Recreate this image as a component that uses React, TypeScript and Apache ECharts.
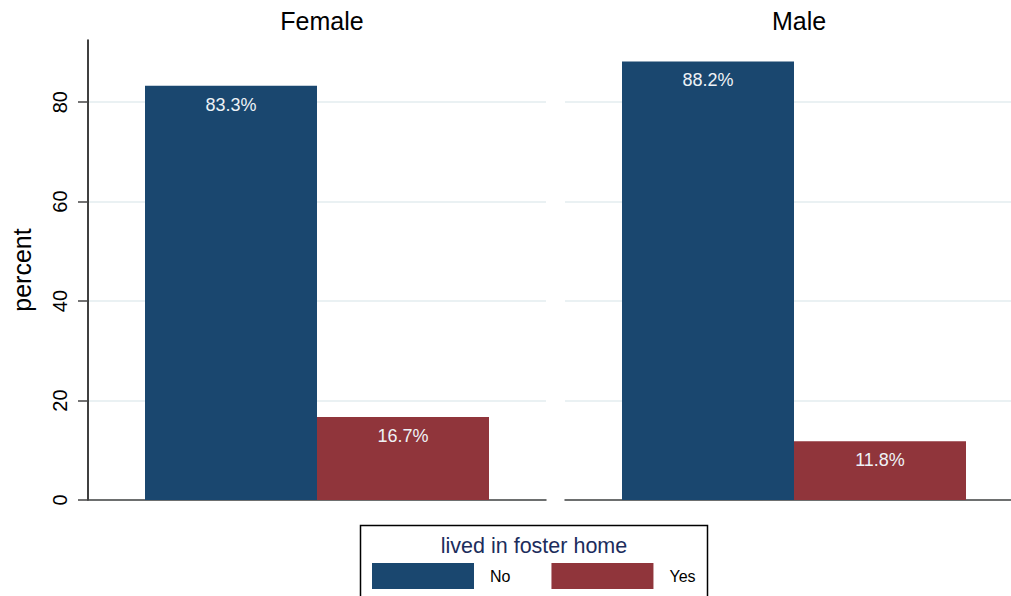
import React, { useEffect, useRef } from "react";
import * as echarts from "echarts";

const panels = ["Female", "Male"];
const groups = ["No", "Yes"];
const noValues = [83.3, 88.2];
const yesValues = [16.7, 11.8];
const yTicks = [0, 20, 40, 60, 80];

const NAVY = "#1a476f";
const MAROON = "#90353b";
const FONT = "Liberation Sans, Arial, Helvetica, sans-serif";

export default function App() {
  const ref = useRef<HTMLDivElement>(null);
  useEffect(() => {
    if (!ref.current) return;
    const chart = echarts.init(ref.current, null, { renderer: "svg" });
    const grids = [
      { left: 88, top: 40, width: 458, height: 460 },
      { left: 565, top: 40, width: 458, height: 460 },
    ];
    const valuesBy = [noValues, yesValues];
    const colors = [NAVY, MAROON];
    const series: any[] = [];
    panels.forEach((p, pi) => {
      groups.forEach((g, gi) => {
        series.push({
          type: "bar",
          name: g,
          xAxisIndex: pi,
          yAxisIndex: pi,
          data: [valuesBy[gi][pi]],
          barWidth: 172,
          barGap: "0%",
          itemStyle: { color: colors[gi] },
          label: {
            show: true,
            position: "insideTop",
            distance: 10,
            formatter: (d: any) => d.value.toFixed(1) + "%",
            color: "#eef2f6",
            fontSize: 18,
            fontFamily: FONT,
          },
        });
      });
    });
    const option: any = {
      animation: false,
      backgroundColor: "#ffffff",
      title: panels.map((p, i) => ({
        text: p,
        left: i === 0 ? 317 : 794,
        top: 3,
        textAlign: "center",
        textStyle: { fontSize: 25, fontWeight: "normal", color: "#000", fontFamily: FONT },
      })),
      grid: grids,
      xAxis: panels.map((p, i) => ({
        type: "category",
        gridIndex: i,
        data: [p],
        axisLine: { show: true, lineStyle: { color: "#444", width: 1.5 } },
        axisTick: { show: false },
        axisLabel: { show: false },
      })),
      yAxis: panels.map((p, i) => ({
        type: "value",
        gridIndex: i,
        min: 0,
        max: 92.5,
        interval: 20,
        name: i === 0 ? "percent" : "",
        nameLocation: "middle",
        nameRotate: 90,
        nameGap: 54,
        nameTextStyle: { fontSize: 25, color: "#000", fontFamily: FONT },
        axisLine: { show: i === 0, lineStyle: { color: "#000", width: 1.5 } },
        axisTick: {
          show: i === 0,
          length: 10,
          customValues: yTicks,
          lineStyle: { color: "#444", width: 1.5 },
        },
        axisLabel: {
          show: i === 0,
          rotate: 90,
          fontSize: 20,
          color: "#000",
          fontFamily: FONT,
          margin: 18,
          customValues: yTicks,
        },
        splitLine: {
          show: true,
          lineStyle: { color: "#eaf1f3", width: 2 },
        },
      })),
      legend: {
        data: groups,
        left: 372,
        top: 563,
        padding: 0,
        itemWidth: 102,
        itemHeight: 26,
        itemGap: 41,
        icon: "rect",
        textStyle: { fontSize: 16, color: "#000", fontFamily: FONT, padding: [0, 0, 0, 11] },
      },
      graphic: [
        {
          type: "rect",
          shape: { x: 360.5, y: 525.5, width: 347, height: 90 },
          style: { fill: "none", stroke: "#000", lineWidth: 1.5 },
          silent: true,
        },
        {
          type: "text",
          x: 534,
          y: 546,
          style: {
            text: "lived in foster home",
            fill: "#1c2d5c",
            fontSize: 21.5,
            fontFamily: FONT,
            align: "center",
            verticalAlign: "middle",
          },
        },
      ],
      series,
    };
    chart.setOption(option);
    return () => chart.dispose();
  }, []);
  return (
    <div style={{ position: "fixed", left: 0, top: 0, width: 1011, height: 596, overflow: "hidden" }}>
      <div ref={ref} style={{ width: 1023, height: 596 }} />
    </div>
  );
}
